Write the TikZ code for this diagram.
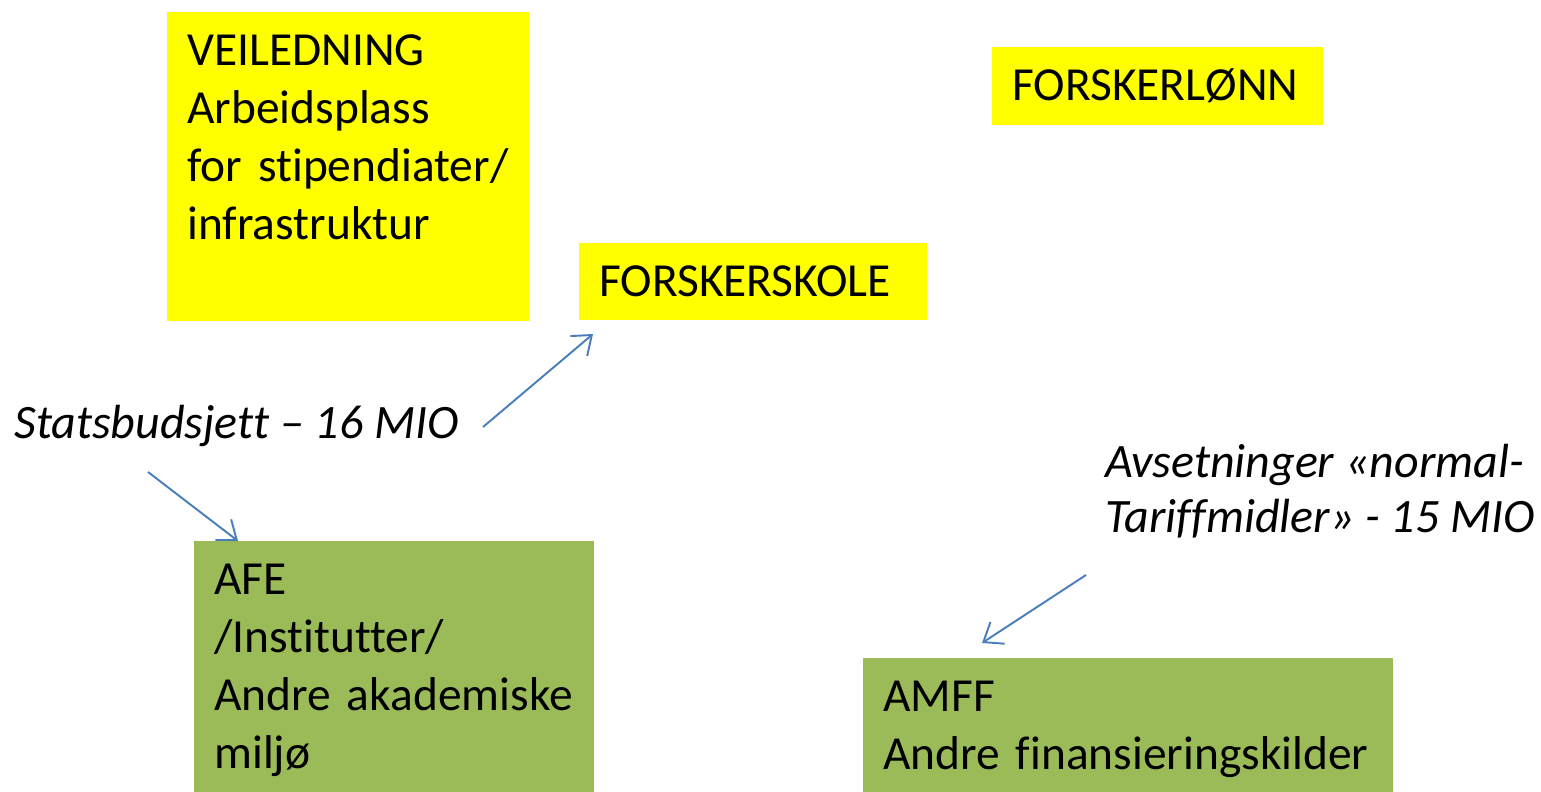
\documentclass[tikz,border=0pt]{standalone}
\usepackage{xcolor}
\usepackage{fontspec}
\setmainfont{Carlito}[Ligatures=NoCommon]
\usepackage{tikz}
\usetikzlibrary{arrows.meta}
\definecolor{boxyellow}{HTML}{FFFF00}
\definecolor{boxgreen}{HTML}{9BBB59}
\definecolor{lineblue}{HTML}{4A7EBB}
\tikzstyle{box} = [rectangle, anchor=north west, inner xsep=0.4cm, inner ysep=0pt, text height=1.06cm, align=left, font=\fontsize{27}{33}\selectfont]
\tikzstyle{yellowbox} = [box, fill=boxyellow]
\tikzstyle{greenbox} = [box, fill=boxgreen]
\tikzstyle{source} = [inner sep=0pt, anchor=base west, align=left, font=\fontsize{27.3}{31}\selectfont\itshape]
\tikzstyle{arrow} = [draw=lineblue, line width=1.1pt, -{Straight Barb[length=0.34cm, width=0.52cm]}]

\begin{document}
\begin{tikzpicture}[x=0.02cm, y=-0.02cm]
\useasboundingbox (0,0) rectangle (1541,791);

% yellow boxes
\node (veiledning) [yellowbox, text width=6.44cm, text depth=5.12cm] at (167,12) {VEILEDNING\\Arbeidsplass\\for stipendiater/\\infrastruktur};
\node (skole) [yellowbox, text width=6.16cm, text depth=0.48cm] at (579,243) {FORSKERSKOLE};
\node (lonn) [yellowbox, text width=5.82cm, text depth=0.5cm] at (992,47) {FORSKERLØNN};

% green boxes
\node (afe) [greenbox, text width=7.2cm, text depth=4.1cm] at (194,541) {AFE\\/Institutter/\\Andre akademiske\\miljø};
\node (amff) [greenbox, text width=9.8cm, text depth=1.8cm] at (863,658) {AMFF\\Andre finansieringskilder};

% funding sources
\node (stat) [source] at (14,438) {Statsbudsjett – 16 MIO};
\node (avset) [source] at (1105,532) {Avsetninger «normal-\\Tariffmidler» - 15 MIO};

\coordinate (stat-up) at (483,427);
\coordinate (skole-in) at (593,334);
\coordinate (stat-down) at (148,472);
\coordinate (afe-in) at (238,541);
\coordinate (avset-out) at (1086,575);
\coordinate (amff-in) at (982,643);

\draw [arrow] (stat-up) -- (skole-in);
\draw [arrow] (stat-down) -- (afe-in);
\draw [arrow] (avset-out) -- (amff-in);

\end{tikzpicture}
\end{document}
